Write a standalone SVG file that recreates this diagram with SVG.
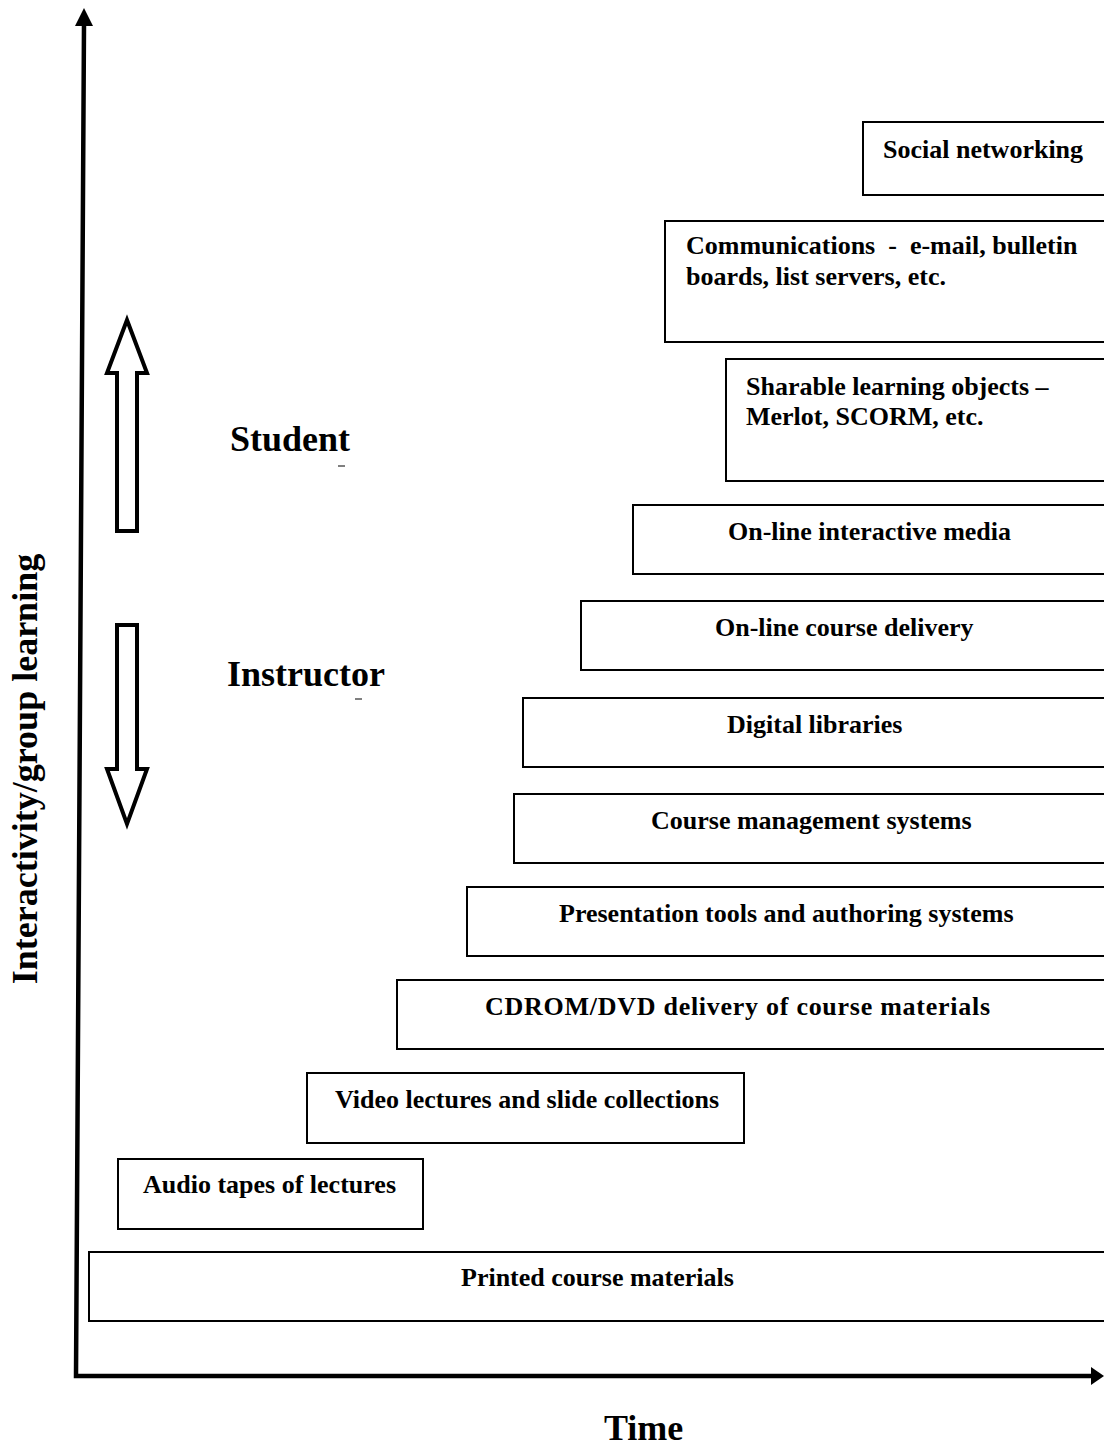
<svg xmlns="http://www.w3.org/2000/svg" width="1104" height="1448" viewBox="0 0 1104 1448">
  <style>
    .box { fill: #fff; stroke: #000; stroke-width: 2; }
    .lbl { font-family: "Liberation Serif", "Times New Roman", serif; font-weight: bold; font-size: 26px; fill: #000; white-space: pre; }
    .big { font-family: "Liberation Serif", "Times New Roman", serif; font-weight: bold; font-size: 36px; fill: #000; }
    .axis { fill: none; stroke: #000; stroke-width: 4.5; stroke-linejoin: miter; }
    .barrow { fill: #fff; stroke: #000; stroke-width: 4; stroke-linejoin: miter; }
  </style>
  <rect width="1104" height="1448" fill="#fff"/>

  <!-- axes -->
  <g id="axes">
    <polyline class="axis" points="84,24 76,1376 1092,1376"/>
    <polygon points="84,8 75,26 93,26" fill="#000"/>
    <polygon points="1091,1367 1104,1376 1091,1385" fill="#000"/>
    <text class="big" transform="translate(37,769) rotate(-90)" text-anchor="middle">Interactivity/group learning</text>
    <text class="big" x="604" y="1440">Time</text>
  </g>

  <!-- student / instructor direction arrows -->
  <g id="student">
    <polygon class="barrow" points="127,320 147,373 137,373 137,531 117,531 117,373 107,373"/>
    <text class="big" x="230" y="451">Student</text>
    <line x1="338" y1="466" x2="345" y2="466" stroke="#000" stroke-width="1"/>
  </g>
  <g id="instructor">
    <polygon class="barrow" points="117,625 137,625 137,769 147,769 127,824 107,769 117,769"/>
    <text class="big" x="227" y="686">Instructor</text>
    <line x1="355" y1="699" x2="362" y2="699" stroke="#000" stroke-width="1"/>
  </g>

  <!-- technology steps -->
  <g id="social">
    <rect class="box" x="863" y="122" width="260" height="73"/>
    <text class="lbl" x="883" y="158">Social networking</text>
  </g>
  <g id="communications">
    <rect class="box" x="665" y="221" width="460" height="121"/>
    <text class="lbl" x="686" y="254">Communications  -  e-mail, bulletin</text>
    <text class="lbl" x="686" y="285">boards, list servers, etc.</text>
  </g>
  <g id="sharable">
    <rect class="box" x="726" y="359" width="400" height="122"/>
    <text class="lbl" x="746" y="395">Sharable learning objects –</text>
    <text class="lbl" x="746" y="425">Merlot, SCORM, etc.</text>
  </g>
  <g id="interactive-media">
    <rect class="box" x="633" y="505" width="490" height="69"/>
    <text class="lbl" x="728" y="540">On-line interactive media</text>
  </g>
  <g id="course-delivery">
    <rect class="box" x="581" y="601" width="540" height="69"/>
    <text class="lbl" x="715" y="636">On-line course delivery</text>
  </g>
  <g id="digital-libraries">
    <rect class="box" x="523" y="698" width="600" height="69"/>
    <text class="lbl" x="727" y="733">Digital libraries</text>
  </g>
  <g id="cms">
    <rect class="box" x="514" y="794" width="610" height="69"/>
    <text class="lbl" x="651" y="829">Course management systems</text>
  </g>
  <g id="presentation">
    <rect class="box" x="467" y="887" width="660" height="69"/>
    <text class="lbl" x="559" y="922">Presentation tools and authoring systems</text>
  </g>
  <g id="cdrom">
    <rect class="box" x="397" y="980" width="730" height="69"/>
    <text class="lbl" x="485" y="1015" textLength="505" lengthAdjust="spacing">CDROM/DVD delivery of course materials</text>
  </g>
  <g id="video">
    <rect class="box" x="307" y="1073" width="437" height="70"/>
    <text class="lbl" x="335" y="1108">Video lectures and slide collections</text>
  </g>
  <g id="audio">
    <rect class="box" x="118" y="1159" width="305" height="70"/>
    <text class="lbl" x="143" y="1193">Audio tapes of lectures</text>
  </g>
  <g id="printed">
    <rect class="box" x="89" y="1252" width="1040" height="69"/>
    <text class="lbl" x="461" y="1286">Printed course materials</text>
  </g>

  <!-- no connectors between steps -->
  <g id="connectors"></g>
</svg>
